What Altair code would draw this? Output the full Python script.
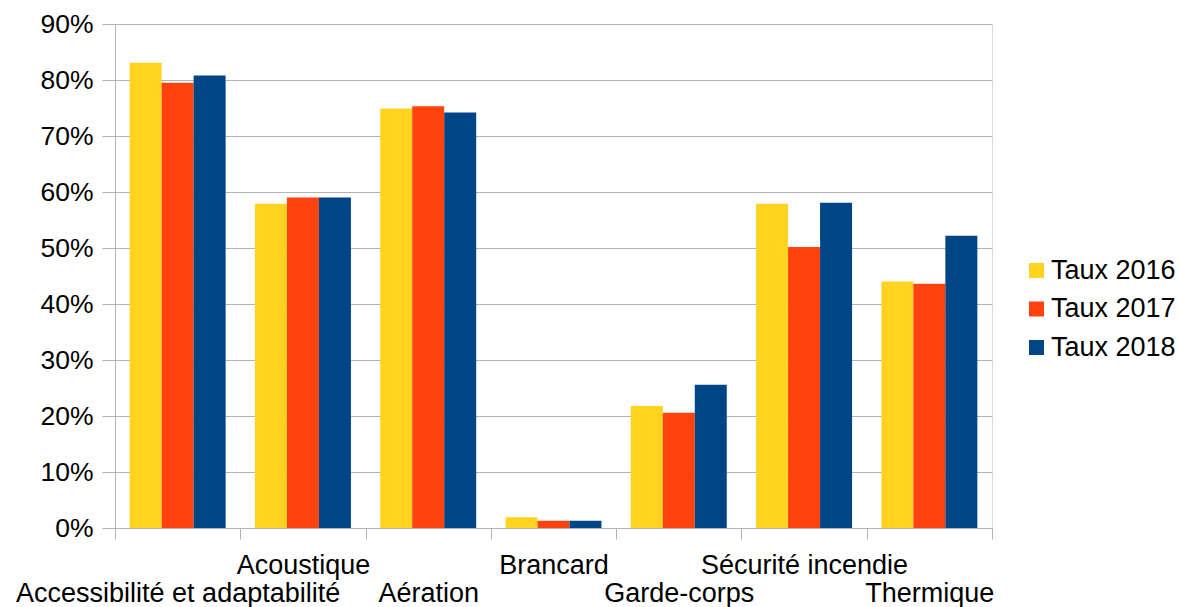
import altair as alt
import pandas as pd

# Categories and yearly rates (in %)
categories = [
    "Accessibilité et adaptabilité",
    "Acoustique",
    "Aération",
    "Brancard",
    "Garde-corps",
    "Sécurité incendie",
    "Thermique",
]
series = ["Taux 2016", "Taux 2017", "Taux 2018"]
taux_2016 = [83.1, 57.9, 74.9, 1.9, 21.8, 57.9, 44.0]
taux_2017 = [79.5, 59.0, 75.3, 1.3, 20.6, 50.2, 43.6]
taux_2018 = [80.8, 59.0, 74.2, 1.3, 25.6, 58.1, 52.2]
y_ticks = [0, 0.1, 0.2, 0.3, 0.4, 0.5, 0.6, 0.7, 0.8, 0.9]
colors = ["#ffd320", "#ff420e", "#004586"]

rows = []
for name, vals in zip(series, [taux_2016, taux_2017, taux_2018]):
    for cat, v in zip(categories, vals):
        rows.append({"categorie": cat, "serie": name, "taux": v / 100})
df = pd.DataFrame(rows)

# Every other category label is pushed to a second line (staggered labels)
lower = categories[0::2]
lower_list = "[" + ",".join("'" + c + "'" for c in lower) + "]"
label_expr = f"indexof({lower_list}, datum.label) >= 0 ? ['', datum.label] : datum.label"

FONT = "Liberation Sans"
GRID = "#b3b3b3"

chart = (
    alt.Chart(df)
    .mark_bar()
    .encode(
        x=alt.X(
            "categorie:N",
            sort=categories,
            title=None,
            scale=alt.Scale(paddingInner=0, paddingOuter=0),
            axis=alt.Axis(
                tickBand="extent",
                tickSize=11,
                tickColor=GRID,
                domainColor=GRID,
                labelAngle=0,
                labelFont=FONT,
                labelFontSize=27,
                labelColor="#000000",
                labelOverlap=False,
                labelLimit=0,
                labelPadding=13,
                labelBaseline="top",
                labelLineHeight=28,
                labelExpr=label_expr,
                grid=False,
            ),
        ),
        xOffset=alt.XOffset(
            "serie:N",
            sort=series,
            scale=alt.Scale(paddingInner=0, paddingOuter=0.458),
        ),
        y=alt.Y(
            "taux:Q",
            title=None,
            scale=alt.Scale(domain=[0, 0.9], nice=False),
            axis=alt.Axis(
                values=y_ticks,
                format=".0%",
                tickSize=13,
                tickColor=GRID,
                domainColor=GRID,
                gridColor=GRID,
                labelFont=FONT,
                labelFontSize=26.5,
                labelColor="#000000",
                labelPadding=9,
            ),
        ),
        color=alt.Color(
            "serie:N",
            sort=series,
            scale=alt.Scale(domain=series, range=colors),
            legend=alt.Legend(
                title=None,
                orient="none",
                legendX=908,
                legendY=233,
                symbolType="square",
                symbolSize=225,
                symbolStrokeWidth=0,
                labelFont=FONT,
                labelFontSize=27,
                labelColor="#000000",
                rowPadding=10.5,
                labelOffset=1,
            ),
        ),
    )
    .properties(
        width=877,
        height=504,
        autosize=alt.AutoSizeParams(type="none"),
        padding={"left": 115, "top": 24, "right": 188, "bottom": 79},
    )
    .configure_view(stroke=GRID)
    .configure(background="white")
)

chart.save("out.html", embed_options={"renderer": "svg", "actions": False})
